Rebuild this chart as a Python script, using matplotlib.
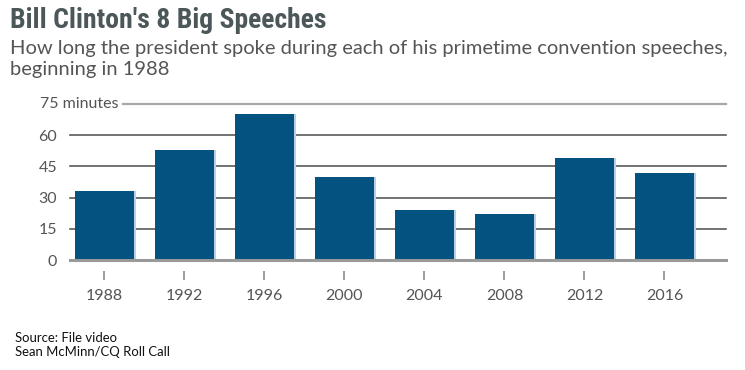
import matplotlib
matplotlib.use("Agg")
import matplotlib.pyplot as plt
import matplotlib.patheffects as pe
from matplotlib import font_manager

years = ["1988", "1992", "1996", "2000", "2004", "2008", "2012", "2016"]
minutes = [33, 53, 70, 40, 24, 22, 49, 42]
yticks = [0, 15, 30, 45, 60, 75]
ytick_labels = ["0", "15", "30", "45", "60", ""]
top_label = "75 minutes"

title = "Bill Clinton's 8 Big Speeches"
subtitle = "How long the president spoke during each of his primetime convention speeches,\nbeginning in 1988"
source = "Source: File video\nSean McMinn/CQ Roll Call"

fl = font_manager.fontManager.ttflist
names = {f.name for f in fl}
title_font, title_stretch = "Lato", "normal"
for cand in ["Roboto Condensed", "Open Sans Condensed", "Liberation Sans Narrow", "DejaVu Sans Condensed"]:
    if cand in names:
        title_font = cand
        break
else:
    if any(f.name == "DejaVu Sans" and f.stretch == "condensed" and f.weight in ("bold", 700) for f in fl):
        title_font, title_stretch = "DejaVu Sans", "condensed"
body_font = "Lato"

W, H = 745, 370
fig = plt.figure(figsize=(W / 100, H / 100), dpi=100)
ax = fig.add_axes([70 / W, 1 - 260 / H, 656 / W, 156 / H])

x = list(range(len(years)))
ax.bar(x, minutes, width=0.74, color="#03527f", zorder=3,
       path_effects=[pe.SimplePatchShadow(offset=(1.5, 0), shadow_rgbFace="#b9d0e6", alpha=1), pe.Normal()])

ax.set_xlim(-0.431, 7.77)
ax.set_ylim(0, 75)

for v in yticks:
    if v == 0:
        ax.axhline(v, color="#9a9a9a", lw=2.2, zorder=4, clip_on=False)
    elif v == 75:
        ax.axhline(v, xmin=(123 - 70) / 656, color="#a8a8a8", lw=1.6, zorder=1, clip_on=False)
    else:
        ax.axhline(v, color="#5a5a5a", lw=1.2, zorder=1, clip_on=False)

for s in ax.spines.values():
    s.set_visible(False)
ax.spines["bottom"].set_position(("outward", 8))

ax.set_yticks(yticks)
ax.set_yticklabels(ytick_labels)
ax.tick_params(axis="y", length=0, pad=9.4, labelsize=11.5, labelcolor="#555555")
ax.set_xticks(x)
ax.set_xticklabels(years)
ax.tick_params(axis="x", direction="out", length=6.5, width=1.2, color="#8c8c8c",
               pad=6.5, labelsize=11.5, labelcolor="#555555")
for lab in ax.get_xticklabels() + ax.get_yticklabels():
    lab.set_fontfamily(body_font)

ax.text((118 - 70) / 656, 75, top_label, transform=ax.get_yaxis_transform(),
        ha="right", va="center", fontsize=11.5, color="#555555", family=body_font)

t = fig.text(10 / W, 1 - 20 / H, title, ha="left", va="center", fontsize=21,
             fontweight="bold", fontstretch=title_stretch, color="#4b5759", family=title_font)
st = fig.text(10 / W, 1 - 40 / H, subtitle, ha="left", va="top", fontsize=13,
              color="#555555", family=body_font, linespacing=1.3)
so = fig.text(15 / W, 1 - 332 / H, source, ha="left", va="top", fontsize=10,
              color="#111111", family=body_font, linespacing=1.25)

# fit text widths to the reference layout
r = fig.canvas.get_renderer()
for txt, target, maxsize in [(t, 317, 24), (st, 717, 16), (so, 155, 11)]:
    w = txt.get_window_extent(r).width
    txt.set_fontsize(min(maxsize, txt.get_fontsize() * target / w))

fig.savefig("out.png", dpi=100)
